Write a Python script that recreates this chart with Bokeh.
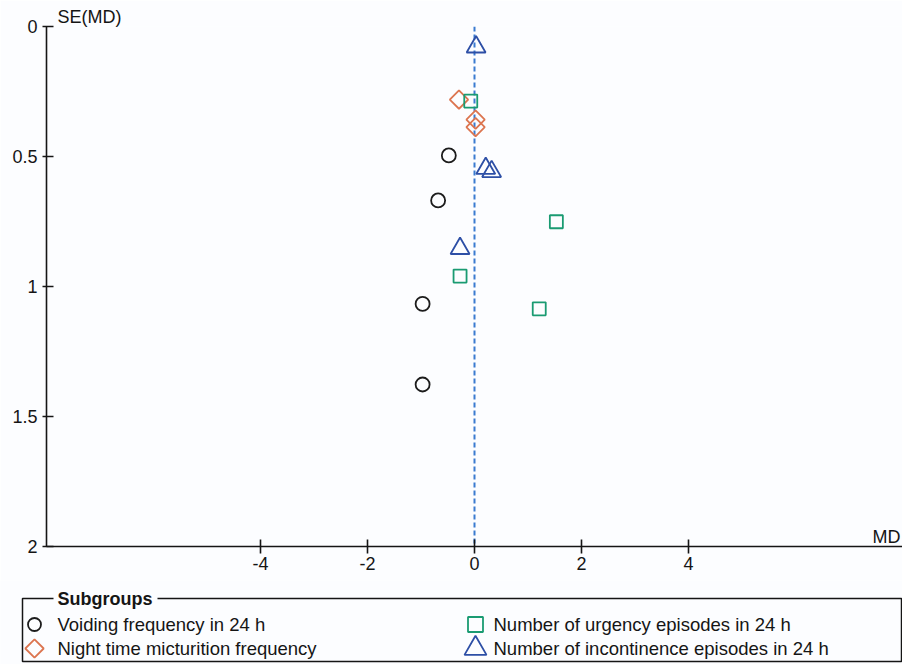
import numpy as np
from bokeh.plotting import figure
from bokeh.models import Range1d, FixedTicker, Span, ColumnDataSource, Title
from bokeh.layouts import column
from bokeh.core.properties import value
from bokeh.embed import file_html
from bokeh.resources import INLINE

# ---------------- data ----------------
subgroups = [
    "Voiding frequency in 24 h",
    "Night time micturition frequency",
    "Number of urgency episodes in 24 h",
    "Number of incontinence episodes in 24 h",
]
voiding_md = [-0.48, -0.68, -0.97, -0.97]
voiding_se = [0.496, 0.669, 1.067, 1.377]
night_md = [-0.29, 0.02, 0.02]
night_se = [0.281, 0.358, 0.387]
urgency_md = [-0.07, 1.53, -0.27, 1.21]
urgency_se = [0.287, 0.751, 0.960, 1.086]
incont_md = [0.03, 0.21, 0.32, -0.27]
incont_se = [0.079, 0.546, 0.558, 0.854]
pooled_md = 0.0

x_ticks = [-4, -2, 0, 2, 4]
x_tick_labels = ["-4", "-2", "0", "2", "4"]
y_ticks = [0, 0.5, 1, 1.5, 2]
y_tick_labels = ["0", "0.5", "1", "1.5", "2"]
x_title = "MD"
y_title = "SE(MD)"
legend_title = "Subgroups"

# ---------------- styles ----------------
FONT = "Liberation Sans"
FS = "18px"
FS_LEG = "18.5px"
BG = "#fcfdff"
TXT = "#151515"
colors = ["#1c1c1c", "#dc7550", "#1a9b72", "#2d4fa6"]
markers = ["circle", "square", "square", "triangle"]
angles = [0, np.pi / 4, 0, 0]
plot_sizes = [14, 13, 13, 19]
legend_sizes = [13, 13, 15, 22]

md_series = [voiding_md, night_md, urgency_md, incont_md]
se_series = [voiding_se, night_se, urgency_se, incont_se]

# ---------------- main plot ----------------
p = figure(width=902, height=580, output_backend="svg", toolbar_location=None,
           x_range=Range1d(-8, 8), y_range=Range1d(2, 0),
           min_border_left=46, min_border_right=0, min_border_top=26,
           min_border_bottom=34, background_fill_color=BG, border_fill_color=BG)
p.outline_line_color = None
p.grid.visible = False
p.frame_align = False

p.title = Title(text=y_title, align="left", offset=11, standoff=0,
                text_font=FONT, text_font_size=FS, text_font_style="normal",
                text_color=TXT, vertical_align="bottom")

span = Span(location=pooled_md, dimension="height", line_color="#3a7bd0",
            line_width=2, line_dash="5 3", level="underlay")
p.add_layout(span)

for i in range(4):
    src = ColumnDataSource(dict(x=md_series[i], y=se_series[i]))
    p.scatter("x", "y", source=src, marker=markers[i], size=plot_sizes[i],
              angle=angles[i], fill_color=None, line_color=colors[i],
              line_width=1.8)

for ax in (p.xaxis, p.yaxis):
    ax.axis_line_color = TXT
    ax.axis_line_width = 1.6
    ax.major_tick_line_color = TXT
    ax.major_tick_line_width = 1.6
    ax.minor_tick_line_color = None
    ax.major_label_text_font = FONT
    ax.major_label_text_font_size = FS
    ax.major_label_text_color = TXT

p.xaxis.ticker = FixedTicker(ticks=x_ticks)
p.xaxis.major_label_overrides = {t: l for t, l in zip(x_ticks, x_tick_labels)}
p.xaxis.major_tick_in = 7
p.xaxis.major_tick_out = 7
p.xaxis.major_label_standoff = 3

p.yaxis.ticker = FixedTicker(ticks=y_ticks)
p.yaxis.major_label_overrides = {t: l for t, l in zip(y_ticks, y_tick_labels)}
p.yaxis.major_tick_in = 7
p.yaxis.major_tick_out = 4
p.yaxis.major_label_standoff = 5

# x-axis title at the right end, just above the axis line
p.text(x=[p.x_range.end], y=[p.y_range.start], text=[x_title], x_offset=-2,
       text_font=value(FONT), text_font_size=FS, text_color=TXT,
       text_baseline="bottom", text_align="right")

# ---------------- legend panel ----------------
LW, LH = 902, 84
lg = figure(width=LW, height=LH, output_backend="svg", toolbar_location=None,
            x_range=Range1d(0, LW), y_range=Range1d(LH, 0),
            x_axis_type=None, y_axis_type=None,
            min_border_left=0, min_border_right=0, min_border_top=0,
            min_border_bottom=0, background_fill_color=BG, border_fill_color=BG)
lg.outline_line_color = None
lg.grid.visible = False
lg.frame_align = False

box_l, box_r, box_t, box_b = 22, 901, 18, 81
gap_l, gap_r = 53, 157
lg.multi_line(xs=[[gap_l, box_l, box_l, box_r, box_r, gap_r]],
              ys=[[box_t, box_t, box_b, box_b, box_t, box_t]],
              line_color=TXT, line_width=1.5)
lg.text(x=[gap_l + 4], y=[box_t], text=[legend_title], text_font=value(FONT),
        text_font_size=FS, text_font_style="bold", text_color=TXT,
        text_baseline="middle", text_align="left")

col_marker_x = [34, 475]
col_label_x = [57, 493]
row_y = [44, 68]
mx = [col_marker_x[i // 2] for i in range(4)]
lx = [col_label_x[i // 2] for i in range(4)]
ry = [row_y[i % 2] for i in range(4)]
for i in range(4):
    lg.scatter(x=[mx[i]], y=[ry[i]], marker=markers[i], size=legend_sizes[i],
               angle=angles[i], fill_color=None, line_color=colors[i],
               line_width=1.8)
lg.text(x=lx, y=ry, text=subgroups, text_font=value(FONT), text_font_size=FS_LEG,
        text_color=TXT, text_baseline="middle", text_align="left")

layout = column(p, lg, spacing=0)
open("out.html", "w").write(file_html(layout, INLINE))
